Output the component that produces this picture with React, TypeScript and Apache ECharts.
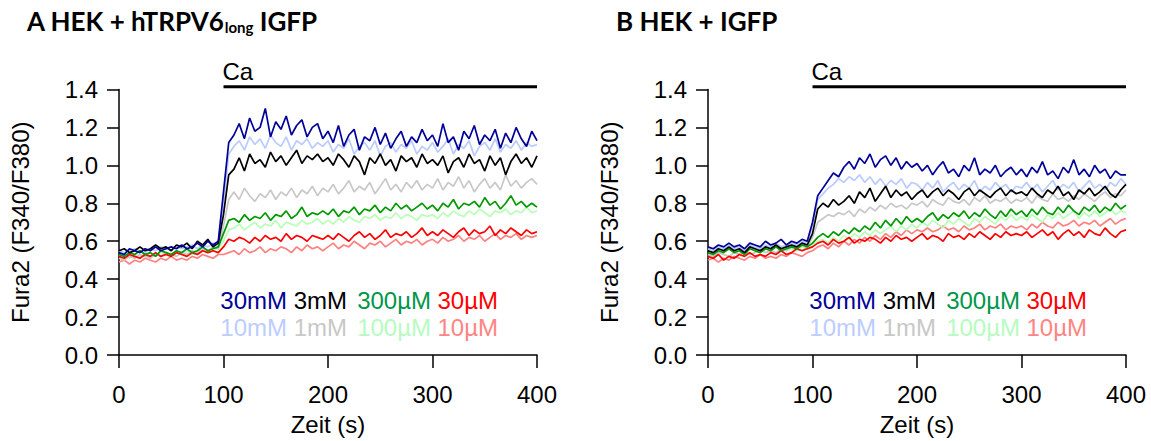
import React, { useEffect, useRef } from "react";
import * as echarts from "echarts";

// sample times (s)
const time = [0,5,10,15,20,25,30,35,40,45,50,55,60,65,70,75,80,85,90,95,100,105,110,115,120,125,130,135,140,145,150,155,160,165,170,175,180,185,190,195,200,205,210,215,220,225,230,235,240,245,250,255,260,265,270,275,280,285,290,295,300,305,310,315,320,325,330,335,340,345,350,355,360,365,370,375,380,385,390,395,400];

// Panel A: HEK + hTRPV6long IGFP
const A_30mM = [0.54,0.53,0.56,0.55,0.54,0.56,0.55,0.57,0.55,0.56,0.57,0.56,0.58,0.56,0.57,0.59,0.57,0.60,0.58,0.60,0.86,1.12,1.16,1.22,1.14,1.25,1.18,1.20,1.30,1.15,1.23,1.19,1.26,1.16,1.21,1.24,1.15,1.20,1.22,1.14,1.18,1.12,1.21,1.10,1.16,1.19,1.08,1.15,1.13,1.20,1.11,1.17,1.09,1.14,1.18,1.10,1.15,1.12,1.19,1.13,1.16,1.10,1.22,1.12,1.15,1.08,1.18,1.14,1.21,1.11,1.16,1.13,1.19,1.09,1.17,1.12,1.20,1.14,1.10,1.18,1.13];
const A_10mM = [0.55,0.54,0.55,0.56,0.55,0.54,0.56,0.55,0.57,0.56,0.55,0.57,0.56,0.57,0.58,0.56,0.58,0.57,0.59,0.58,0.80,1.06,1.10,1.13,1.08,1.15,1.11,1.14,1.09,1.16,1.12,1.10,1.15,1.08,1.13,1.11,1.14,1.09,1.12,1.10,1.13,1.07,1.11,1.09,1.14,1.06,1.10,1.12,1.08,1.13,1.05,1.10,1.12,1.07,1.11,1.09,1.13,1.06,1.10,1.08,1.12,1.07,1.10,1.14,1.06,1.11,1.09,1.13,1.05,1.10,1.12,1.08,1.14,1.07,1.11,1.09,1.13,1.08,1.12,1.10,1.11];
const A_3mM = [0.55,0.56,0.54,0.55,0.57,0.55,0.56,0.58,0.56,0.57,0.55,0.58,0.57,0.59,0.56,0.60,0.58,0.61,0.57,0.59,0.74,0.95,0.98,1.04,0.97,1.06,1.01,1.03,0.99,1.07,1.02,1.05,1.00,1.04,1.08,1.01,1.05,1.03,1.06,1.02,1.04,1.00,1.06,1.03,0.99,1.05,1.02,0.95,1.04,1.01,1.06,1.00,1.03,0.97,1.05,1.02,1.04,0.99,1.06,1.01,1.03,1.00,1.05,0.96,1.02,1.04,0.99,1.06,1.01,1.03,0.97,1.05,1.00,1.04,0.95,1.02,1.06,1.01,1.04,0.99,1.05];
const A_1mM = [0.51,0.50,0.52,0.51,0.53,0.52,0.51,0.53,0.52,0.54,0.53,0.52,0.54,0.53,0.55,0.54,0.56,0.55,0.57,0.56,0.68,0.82,0.86,0.82,0.88,0.84,0.81,0.85,0.83,0.87,0.82,0.86,0.84,0.88,0.83,0.87,0.85,0.89,0.84,0.88,0.86,0.90,0.85,0.88,0.92,0.86,0.89,0.87,0.91,0.85,0.89,0.93,0.87,0.90,0.86,0.91,0.88,0.92,0.87,0.90,0.88,0.93,0.87,0.91,0.89,0.94,0.88,0.92,0.86,0.90,0.93,0.88,0.91,0.87,0.95,0.89,0.92,0.88,0.91,0.93,0.90];
const A_300uM = [0.53,0.52,0.54,0.53,0.55,0.53,0.54,0.52,0.55,0.54,0.53,0.55,0.54,0.56,0.54,0.55,0.57,0.55,0.56,0.57,0.64,0.71,0.72,0.70,0.74,0.71,0.73,0.72,0.75,0.71,0.74,0.73,0.76,0.72,0.74,0.78,0.73,0.75,0.74,0.76,0.74,0.77,0.73,0.76,0.75,0.78,0.74,0.77,0.76,0.79,0.75,0.78,0.76,0.80,0.77,0.79,0.76,0.78,0.80,0.77,0.79,0.76,0.80,0.78,0.82,0.77,0.80,0.79,0.81,0.78,0.83,0.79,0.81,0.77,0.80,0.84,0.79,0.81,0.78,0.80,0.78];
const A_100uM = [0.52,0.53,0.51,0.53,0.52,0.54,0.52,0.53,0.54,0.53,0.52,0.54,0.53,0.55,0.53,0.54,0.56,0.54,0.55,0.56,0.60,0.66,0.67,0.69,0.66,0.68,0.70,0.67,0.69,0.68,0.71,0.67,0.70,0.69,0.68,0.71,0.69,0.70,0.72,0.69,0.71,0.69,0.72,0.70,0.73,0.71,0.70,0.73,0.72,0.74,0.71,0.73,0.72,0.75,0.72,0.74,0.73,0.71,0.74,0.73,0.74,0.72,0.75,0.73,0.76,0.74,0.73,0.76,0.74,0.77,0.75,0.73,0.76,0.75,0.77,0.74,0.76,0.75,0.78,0.75,0.76];
const A_30uM = [0.52,0.51,0.53,0.52,0.51,0.53,0.52,0.54,0.52,0.53,0.52,0.54,0.53,0.52,0.54,0.53,0.55,0.54,0.55,0.54,0.57,0.61,0.60,0.62,0.61,0.59,0.62,0.60,0.63,0.61,0.62,0.60,0.64,0.61,0.63,0.62,0.60,0.63,0.62,0.61,0.63,0.61,0.64,0.62,0.60,0.63,0.65,0.62,0.64,0.61,0.63,0.66,0.62,0.64,0.63,0.65,0.62,0.64,0.67,0.63,0.65,0.63,0.66,0.64,0.62,0.65,0.67,0.63,0.66,0.64,0.65,0.68,0.63,0.66,0.64,0.67,0.65,0.63,0.66,0.64,0.65];
const A_10uM = [0.49,0.50,0.48,0.50,0.49,0.51,0.50,0.49,0.51,0.50,0.52,0.50,0.51,0.50,0.52,0.51,0.53,0.52,0.51,0.53,0.53,0.54,0.55,0.53,0.56,0.54,0.55,0.57,0.54,0.56,0.55,0.57,0.56,0.54,0.57,0.55,0.58,0.56,0.57,0.55,0.57,0.59,0.56,0.58,0.57,0.60,0.58,0.56,0.59,0.58,0.60,0.57,0.59,0.61,0.58,0.60,0.59,0.61,0.58,0.60,0.61,0.59,0.62,0.60,0.61,0.63,0.60,0.62,0.61,0.63,0.60,0.62,0.64,0.61,0.63,0.62,0.64,0.61,0.63,0.62,0.63];

// Panel B: HEK + IGFP
const B_30mM = [0.57,0.56,0.58,0.57,0.59,0.57,0.58,0.56,0.59,0.58,0.57,0.60,0.58,0.59,0.61,0.58,0.60,0.59,0.61,0.60,0.70,0.84,0.88,0.92,0.96,0.94,0.99,1.02,0.98,1.04,1.01,1.06,0.99,1.03,1.05,1.00,1.04,0.98,1.02,0.99,1.01,0.97,1.00,0.95,0.99,1.02,0.96,0.98,0.94,1.00,0.97,1.04,0.95,0.98,0.96,1.00,0.94,0.97,0.99,0.95,0.98,0.94,0.99,0.96,1.02,0.95,0.97,0.93,0.99,0.96,1.03,0.95,0.98,0.94,1.00,0.96,0.98,0.93,0.97,0.95,0.95];
const B_10mM = [0.56,0.55,0.57,0.56,0.58,0.56,0.57,0.55,0.58,0.57,0.56,0.58,0.57,0.59,0.57,0.58,0.59,0.58,0.60,0.59,0.68,0.82,0.85,0.88,0.90,0.93,0.91,0.94,0.92,0.95,0.91,0.94,0.90,0.93,0.89,0.92,0.90,0.93,0.88,0.91,0.90,0.87,0.91,0.88,0.92,0.86,0.89,0.91,0.87,0.90,0.88,0.92,0.86,0.89,0.87,0.91,0.88,0.90,0.86,0.89,0.88,0.91,0.87,0.90,0.86,0.89,0.92,0.87,0.90,0.88,0.91,0.86,0.89,0.92,0.88,0.90,0.87,0.91,0.89,0.93,0.90];
const B_3mM = [0.55,0.54,0.56,0.55,0.57,0.55,0.56,0.54,0.57,0.56,0.55,0.57,0.56,0.58,0.56,0.57,0.58,0.57,0.59,0.58,0.64,0.77,0.80,0.78,0.82,0.79,0.81,0.84,0.80,0.86,0.83,0.88,0.81,0.85,0.89,0.83,0.87,0.84,0.86,0.82,0.85,0.87,0.83,0.86,0.88,0.84,0.87,0.85,0.82,0.86,0.88,0.84,0.87,0.85,0.83,0.86,0.88,0.84,0.87,0.85,0.86,0.84,0.88,0.85,0.83,0.87,0.85,0.89,0.84,0.86,0.82,0.87,0.85,0.88,0.84,0.86,0.89,0.85,0.83,0.87,0.90];
const B_1mM = [0.53,0.52,0.54,0.53,0.52,0.54,0.53,0.55,0.53,0.54,0.56,0.54,0.55,0.54,0.56,0.55,0.57,0.56,0.55,0.57,0.62,0.70,0.72,0.74,0.73,0.75,0.74,0.76,0.73,0.77,0.75,0.78,0.76,0.79,0.77,0.80,0.78,0.79,0.77,0.80,0.79,0.81,0.78,0.82,0.80,0.79,0.83,0.81,0.80,0.82,0.79,0.83,0.81,0.84,0.80,0.82,0.81,0.83,0.80,0.82,0.81,0.83,0.80,0.84,0.82,0.81,0.85,0.82,0.83,0.81,0.84,0.82,0.85,0.83,0.81,0.84,0.86,0.83,0.85,0.84,0.87];
const B_300uM = [0.54,0.53,0.55,0.54,0.56,0.54,0.55,0.53,0.56,0.55,0.54,0.56,0.55,0.57,0.55,0.56,0.57,0.56,0.58,0.57,0.59,0.62,0.64,0.62,0.65,0.63,0.66,0.64,0.67,0.65,0.68,0.66,0.70,0.67,0.71,0.68,0.72,0.69,0.73,0.70,0.72,0.70,0.73,0.75,0.71,0.74,0.72,0.75,0.73,0.76,0.72,0.75,0.73,0.77,0.74,0.72,0.76,0.73,0.77,0.74,0.76,0.73,0.77,0.74,0.78,0.75,0.74,0.78,0.75,0.79,0.76,0.74,0.78,0.76,0.79,0.75,0.78,0.76,0.80,0.77,0.79];
const B_100uM = [0.53,0.52,0.54,0.53,0.52,0.54,0.53,0.55,0.53,0.54,0.55,0.54,0.55,0.54,0.56,0.55,0.56,0.55,0.57,0.56,0.58,0.60,0.61,0.59,0.62,0.60,0.63,0.61,0.64,0.62,0.65,0.63,0.66,0.64,0.66,0.68,0.65,0.68,0.66,0.69,0.67,0.70,0.68,0.71,0.69,0.67,0.71,0.69,0.72,0.70,0.68,0.72,0.70,0.73,0.71,0.69,0.73,0.71,0.74,0.71,0.73,0.71,0.74,0.72,0.70,0.74,0.72,0.75,0.72,0.74,0.76,0.72,0.75,0.73,0.76,0.73,0.75,0.77,0.74,0.76,0.75];
const B_30uM = [0.52,0.51,0.53,0.50,0.52,0.51,0.53,0.52,0.54,0.52,0.53,0.52,0.54,0.53,0.55,0.53,0.54,0.56,0.55,0.56,0.57,0.59,0.60,0.58,0.61,0.59,0.60,0.62,0.59,0.61,0.60,0.62,0.61,0.59,0.62,0.60,0.63,0.61,0.62,0.60,0.62,0.64,0.61,0.63,0.62,0.60,0.64,0.62,0.63,0.61,0.64,0.62,0.65,0.63,0.61,0.64,0.62,0.65,0.63,0.64,0.63,0.65,0.62,0.64,0.66,0.63,0.65,0.61,0.64,0.66,0.63,0.65,0.62,0.66,0.64,0.63,0.67,0.64,0.62,0.65,0.66];
const B_10uM = [0.50,0.51,0.49,0.51,0.50,0.52,0.51,0.50,0.52,0.51,0.53,0.51,0.52,0.51,0.53,0.52,0.54,0.53,0.52,0.54,0.55,0.57,0.58,0.56,0.59,0.57,0.60,0.58,0.61,0.59,0.62,0.60,0.63,0.61,0.64,0.62,0.65,0.63,0.66,0.64,0.66,0.65,0.67,0.65,0.66,0.68,0.66,0.67,0.65,0.68,0.66,0.67,0.69,0.66,0.68,0.67,0.69,0.66,0.68,0.67,0.68,0.66,0.69,0.67,0.70,0.68,0.67,0.70,0.68,0.69,0.71,0.68,0.70,0.69,0.71,0.68,0.70,0.72,0.69,0.71,0.72];

// Ca application bar
const caStart = 100;
const caEnd = 400;
const caLevel = 1.414;

// legend layout (two rows, four columns)
const legendRow1 = ["30mM", "3mM", "300µM", "30µM"];
const legendRow2 = ["10mM", "1mM", "100µM", "10µM"];

const COLORS: Record<string, string> = {
  "30mM": "#000099",
  "10mM": "#b9cbff",
  "3mM": "#000000",
  "1mM": "#c8c8c8",
  "300µM": "#009900",
  "100µM": "#b8ffb8",
  "30µM": "#ff0000",
  "10µM": "#ff8080",
};
const LEGEND_COLORS: Record<string, string> = {
  "30mM": "#000099",
  "10mM": "#bccdff",
  "3mM": "#000000",
  "1mM": "#c8c8c8",
  "300µM": "#00964b",
  "100µM": "#b6fbc0",
  "30µM": "#ff0000",
  "10µM": "#ff8585",
};

const panelA: [string, number[]][] = [
  ["10µM", A_10uM], ["100µM", A_100uM], ["1mM", A_1mM], ["10mM", A_10mM],
  ["30µM", A_30uM], ["300µM", A_300uM], ["3mM", A_3mM], ["30mM", A_30mM],
];
const panelB: [string, number[]][] = [
  ["10µM", B_10uM], ["100µM", B_100uM], ["1mM", B_1mM], ["10mM", B_10mM],
  ["30µM", B_30uM], ["300µM", B_300uM], ["3mM", B_3mM], ["30mM", B_30mM],
];

const FONT = '"Liberation Sans", Arial, sans-serif';
const TITLE_FONT = 'Lato, "Open Sans", sans-serif';

export default function App() {
  const ref = useRef<HTMLDivElement>(null);
  useEffect(() => {
    document.body.style.margin = "0";
    const chart = echarts.init(ref.current!, null, { renderer: "svg" });

    const grids = [
      { left: 119, top: 89.5, width: 418, height: 268 },
      { left: 708, top: 89.5, width: 418, height: 268 },
    ];
    const panelDx = [0, 589];

    const xAxes = grids.map((_, k) => ({
      type: "value",
      gridIndex: k,
      min: 0,
      max: 400,
      interval: 100,
      offset: 3,
      axisLine: { show: true, lineStyle: { color: "#000", width: 1.5 } },
      axisTick: { show: true, inside: false, length: 13, lineStyle: { color: "#000", width: 1.5 } },
      axisLabel: { color: "#000", fontSize: 24, fontFamily: FONT, margin: 24 },
      splitLine: { show: false },
      name: "Zeit (s)",
      nameLocation: "middle",
      nameGap: 54,
      nameTextStyle: { color: "#000", fontSize: 24, fontFamily: FONT },
    }));
    const yAxes = grids.map((_, k) => ({
      type: "value",
      gridIndex: k,
      min: 0,
      max: 1.4,
      interval: 0.2,
      axisLine: { show: true, lineStyle: { color: "#000", width: 1.5 } },
      axisTick: { show: true, inside: false, length: 12, lineStyle: { color: "#000", width: 1.5 } },
      axisLabel: {
        color: "#000",
        fontSize: 24,
        fontFamily: FONT,
        margin: 21,
        formatter: (v: number) => v.toFixed(1),
      },
      splitLine: { show: false },
      name: "Fura2 (F340/F380)",
      nameLocation: "middle",
      nameGap: 87,
      nameRotate: 90,
      nameTextStyle: { color: "#000", fontSize: 24, fontFamily: FONT },
    }));

    const series: any[] = [];
    [panelA, panelB].forEach((panel, k) => {
      panel.forEach(([name, arr]) => {
        series.push({
          type: "line",
          name,
          xAxisIndex: k,
          yAxisIndex: k,
          data: arr.map((v, i) => [time[i], v]),
          symbol: "none",
          showSymbol: false,
          lineStyle: { color: COLORS[name], width: 1.7 },
          itemStyle: { color: COLORS[name] },
          silent: true,
        });
      });
      series.push({
        type: "line",
        name: "Ca",
        xAxisIndex: k,
        yAxisIndex: k,
        data: [[caStart, caLevel], [caEnd, caLevel]],
        clip: false,
        symbol: "none",
        showSymbol: false,
        lineStyle: { color: "#000", width: 3 },
        silent: true,
      });
    });

    const graphics: any[] = [];
    const titles = [
      "{b|A HEK + hTRPV6}{s|long}{b| IGFP}",
      "{b|B HEK + IGFP}",
    ];
    const colRight = [287, 347, 431, 498];
    const rowY = [300, 327];
    panelDx.forEach((dx, k) => {
      graphics.push({
        type: "text",
        x: 27 + dx,
        y: 21,
        silent: true,
        style: {
          text: titles[k],
          align: "left",
          textAlign: "left",
          verticalAlign: "middle",
          textVerticalAlign: "middle",
          rich: {
            b: { fontFamily: TITLE_FONT, fontWeight: "bold", fontSize: 26, fill: "#000" },
            s: { fontFamily: TITLE_FONT, fontWeight: "bold", fontSize: 15, fill: "#000", verticalAlign: "bottom" },
          },
        },
      });
      graphics.push({
        type: "text",
        x: 222.5 + dx,
        y: 71,
        silent: true,
        style: {
          text: "Ca",
          fill: "#000",
          fontFamily: FONT,
          fontSize: 24,
          align: "left",
          textAlign: "left",
          verticalAlign: "middle",
          textVerticalAlign: "middle",
        },
      });
      [legendRow1, legendRow2].forEach((row, r) => {
        row.forEach((label, c) => {
          graphics.push({
            type: "text",
            x: colRight[c] + dx,
            y: rowY[r],
            silent: true,
            style: {
              text: label,
              fill: LEGEND_COLORS[label],
              fontFamily: FONT,
              fontSize: 24,
              align: "right",
              textAlign: "right",
              verticalAlign: "middle",
              textVerticalAlign: "middle",
            },
          });
        });
      });
    });

    chart.setOption({
      animation: false,
      backgroundColor: "#fff",
      grid: grids,
      xAxis: xAxes,
      yAxis: yAxes,
      series,
      graphic: graphics,
    });
    return () => chart.dispose();
  }, []);
  return <div ref={ref} style={{ width: 1151, height: 441 }} />;
}
